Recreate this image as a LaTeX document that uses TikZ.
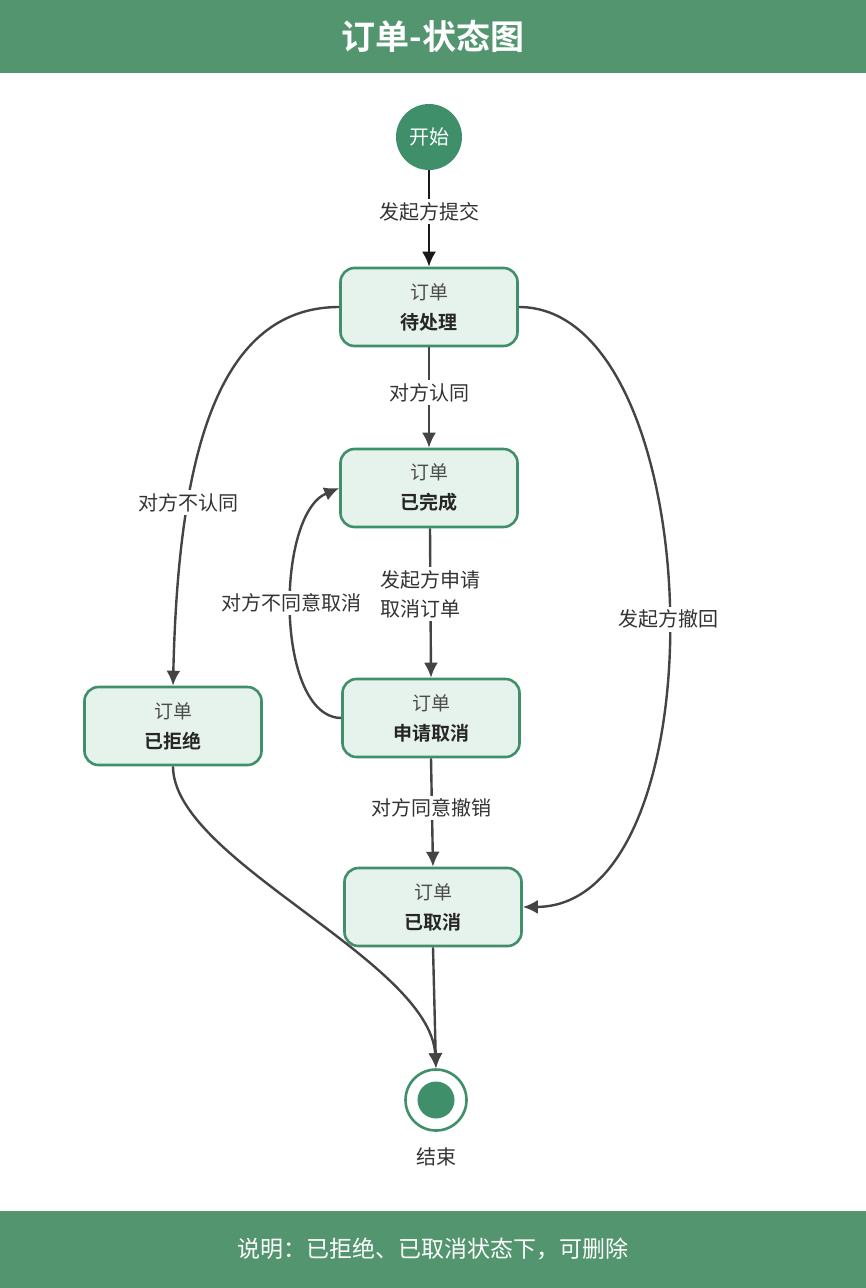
\documentclass[tikz,border=0pt]{standalone}
\usepackage{fontspec}
\setmainfont{Noto Sans CJK SC}[BoldFont={Noto Sans CJK SC Bold}]
\usetikzlibrary{arrows.meta, positioning, shapes}

\definecolor{bargreen}{HTML}{52956E}
\definecolor{stategreen}{HTML}{3F8F6B}
\definecolor{statefill}{HTML}{E6F2EC}
\definecolor{linegray}{HTML}{444444}

\tikzset{
  statebox/.style={draw=stategreen, line width=2.6pt, fill=statefill, rounded corners=14pt,
                   minimum width=177pt, minimum height=78pt, align=center, inner sep=0pt,
                   font=\fontsize{19}{30}\selectfont},
  lbl/.style={fill=white, text=black!80, inner sep=3pt, font=\fontsize{20}{29}\selectfont},
  link/.style={draw=linegray, line width=2.4pt, -{Latex[length=15pt,width=14pt]}},
}

\newcommand{\orderstate}[1]{\textcolor{black!70}{订单}\\\textcolor{black!85}{\textbf{#1}}}

\begin{document}
\begin{tikzpicture}[x=1pt, y=-1pt]

\useasboundingbox (0,0) rectangle (866,1288);

\node [fill=bargreen, minimum width=866pt, minimum height=73pt, anchor=north west, text=white,
       font=\fontsize{34}{40}\selectfont\bfseries] (title) at (0,0)    {订单-状态图};
\node [fill=bargreen, minimum width=866pt, minimum height=77pt, anchor=south west, text=white,
       font=\fontsize{23}{28}\selectfont]          (note)  at (0,1288) {说明：已拒绝、已取消状态下，可删除};

\node [circle, fill=stategreen, minimum size=66pt, text=white,
       font=\fontsize{20}{23}\selectfont] (start) at (429,137)  {开始};
\node [statebox]                         (pend)  at (429,307)  {\orderstate{待处理}};
\node [statebox]                         (done)  at (429,488)  {\orderstate{已完成}};
\node [statebox]                         (cxreq) at (431,718)  {\orderstate{申请取消}};
\node [statebox]                         (rej)   at (173,726)  {\orderstate{已拒绝}};
\node [statebox]                         (cxd)   at (433,907)  {\orderstate{已取消}};
\node [circle, draw=stategreen, line width=2.6pt, fill=white,
       minimum size=61pt]                (stop)  at (436,1100) {};
\node [circle, fill=stategreen, minimum size=37pt] (dot) at (stop) {};
\node [below=12pt of stop, text=black!80,
       font=\fontsize{20}{23}\selectfont] (stoptxt) {结束};

% straight transitions
\path [link, draw=black!90] (start.south) -- node [lbl, pos=0.43] {发起方提交} (pend.north);
\path [link] (pend.south)  -- node [lbl, pos=0.45] {对方认同} (done.north);
\path [link] ([xshift=1pt]done.south) -- node [lbl, pos=0.44, align=left] {发起方申请\\取消订单} (cxreq.north);
\path [link] (cxreq.south) -- node [lbl, pos=0.46] {对方同意撤销} (cxd.north);

% curved transitions
\path [link] (cxreq.west)  .. controls (275,717) and (275,515) .. node [lbl, pos=0.53] {对方不同意取消} (done.west);
\path [link] (pend.west)   .. controls (212,307) and (178,470) .. node [lbl, pos=0.688] {对方不认同} (rej.north);
\path [link] (pend.east)   .. controls (710,307) and (725,906) .. node [lbl, pos=0.514] {发起方撤回} (cxd.east);
\path [link] (rej.south)   .. controls (173,860) and (430,960) .. (stop.north);
\path [link] (cxd.south)   -- (stop.north);

\end{tikzpicture}
\end{document}
